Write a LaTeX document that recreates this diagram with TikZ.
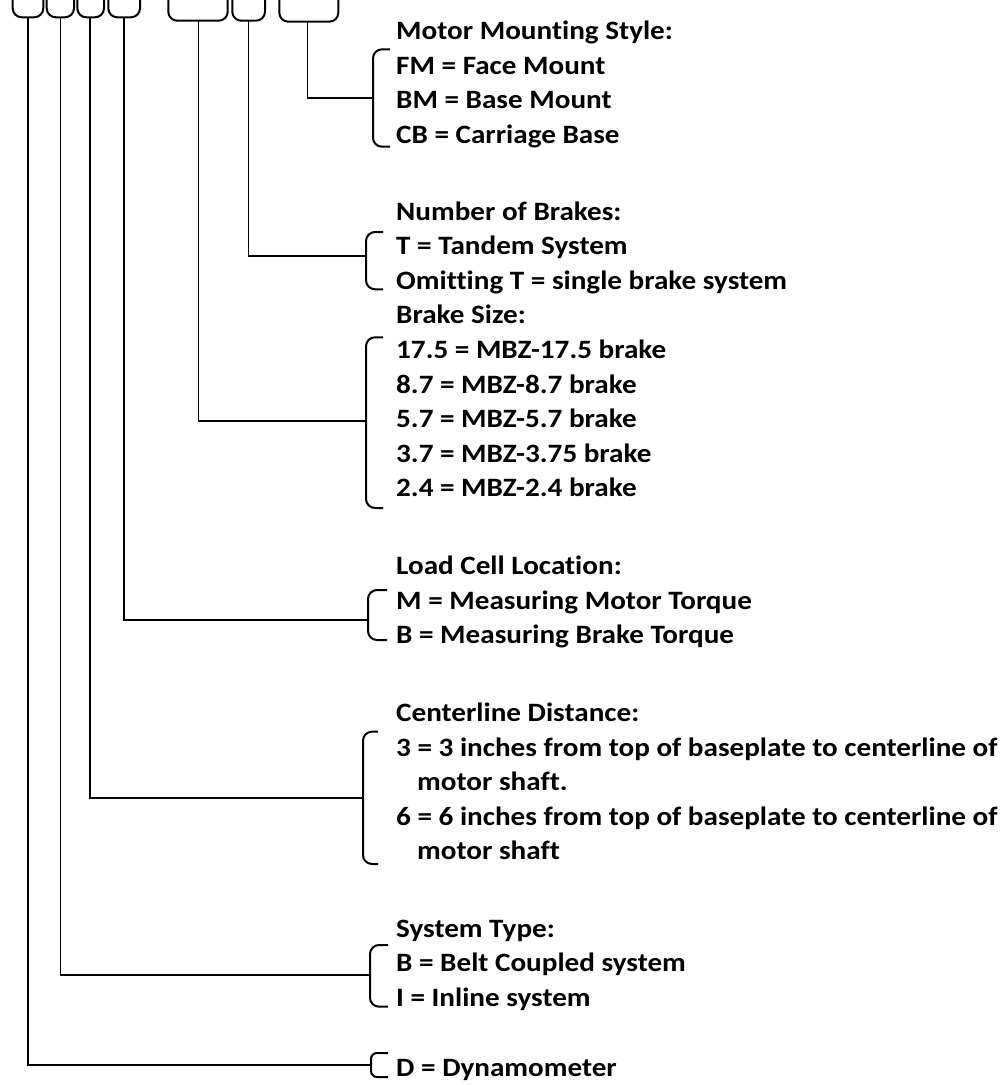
\documentclass[tikz,border=0pt]{standalone}
\usepackage{fontspec}
\setmainfont[FakeStretch=1.1,Ligatures=NoCommon]{Carlito}
\begin{document}
\begin{tikzpicture}[x=1pt,y=-1pt,
  lbl/.style={anchor=base west,inner sep=0pt,font=\bfseries\fontsize{26.5}{30}\selectfont},
  stem/.style={line width=1.6pt},
  topbr/.style={line width=2pt,rounded corners=9pt},
  brk/.style={line width=2pt,rounded corners=9pt}]
\useasboundingbox (0,0) rectangle (1007,1085);
% top U brackets and their stem points
\draw[topbr] (12.7,0) -- (12.7,17.3) -- (43.3,17.3) -- (43.3,0);
\draw[topbr] (46.7,0) -- (46.7,17.3) -- (74,17.3) -- (74,0);
\draw[topbr] (77.3,0) -- (77.3,17.3) -- (104,17.3) -- (104,0);
\draw[topbr] (108.3,0) -- (108.3,17.3) -- (140,17.3) -- (140,0);
\draw[topbr] (168.3,0) -- (168.3,20.7) -- (227.7,20.7) -- (227.7,0);
\draw[topbr] (232.3,0) -- (232.3,20.7) -- (265,20.7) -- (265,0);
\draw[topbr] (279.3,0) -- (279.3,21.7) -- (338.3,21.7) -- (338.3,0);
\coordinate (s1) at (27.7,17.3);
\coordinate (s2) at (60.3,17.3);
\coordinate (s3) at (90,17.3);
\coordinate (s4) at (124,17.3);
\coordinate (s5) at (198.3,20.7);
\coordinate (s6) at (248.3,20.7);
\coordinate (s7) at (307.3,21.7);
% right brackets: join points
\coordinate (b1) at (373,97.7);
\coordinate (b2) at (366,255.7);
\coordinate (b3) at (366,421);
\coordinate (b4) at (368,620);
\coordinate (b5) at (363,797.7);
\coordinate (b6) at (370,975);
\coordinate (b7) at (371,1065);
\draw[brk] (390,49.3) -- (373,49.3) -- (373,146.7) -- (390,146.7);
\draw[brk] (383,232) -- (366,232) -- (366,289.3) -- (383,289.3);
\draw[brk] (383,337.3) -- (366,337.3) -- (366,508) -- (383,508);
\draw[brk] (387,590) -- (368,590) -- (368,640) -- (387,640);
\draw[brk] (378,731.7) -- (363,731.7) -- (363,864) -- (378,864);
\draw[brk] (388,945) -- (370,945) -- (370,1006.7) -- (388,1006.7);
\draw[brk,rounded corners=6pt] (388,1053) -- (371,1053) -- (371,1077) -- (388,1077);
% connectors
\draw[stem] (s7) |- (b1);
\draw[stem] (s6) |- (b2);
\draw[stem] (s5) |- (b3);
\draw[stem] (s4) |- (b4);
\draw[stem] (s3) |- (b5);
\draw[stem] (s2) |- (b6);
\draw[stem] (s1) |- (b7);
% texts
\node[lbl] (m0) at (396,39.5) {Motor Mounting Style:};
\node[lbl] (m1) at (396,74) {FM = Face Mount};
\node[lbl] (m2) at (396,108.5) {BM = Base Mount};
\node[lbl] (m3) at (396,143) {CB = Carriage Base};
\node[lbl] (n0) at (396,220) {Number of Brakes:};
\node[lbl] (n1) at (396,254.5) {T = Tandem System};
\node[lbl] (n2) at (396,289) {Omitting T = single brake system};
\node[lbl] (z0) at (396,323.5) {Brake Size:};
\node[lbl] (z1) at (396,358.5) {17.5 = MBZ-17.5 brake};
\node[lbl] (z2) at (396,393) {8.7 = MBZ-8.7 brake};
\node[lbl] (z3) at (396,427.5) {5.7 = MBZ-5.7 brake};
\node[lbl] (z4) at (396,462) {3.7 = MBZ-3.75 brake};
\node[lbl] (z5) at (396,496.5) {2.4 = MBZ-2.4 brake};
\node[lbl] (l0) at (396,574.5) {Load Cell Location:};
\node[lbl] (l1) at (396,609) {M = Measuring Motor Torque};
\node[lbl] (l2) at (396,643.5) {B = Measuring Brake Torque};
\node[lbl] (c0) at (396,721.5) {Centerline Distance:};
\node[lbl] (c1) at (396,756) {3 = 3 inches from top of baseplate to centerline of};
\node[lbl] (c2) at (417,790.5) {motor shaft.};
\node[lbl] (c3) at (396,825) {6 = 6 inches from top of baseplate to centerline of};
\node[lbl] (c4) at (417,859.5) {motor shaft};
\node[lbl] (y0) at (396,937) {System Type:};
\node[lbl] (y1) at (396,971.5) {B = Belt Coupled system};
\node[lbl] (y2) at (396,1006) {I = Inline system};
\node[lbl] (d1) at (396,1076) {D = Dynamometer};
\end{tikzpicture}
\end{document}
